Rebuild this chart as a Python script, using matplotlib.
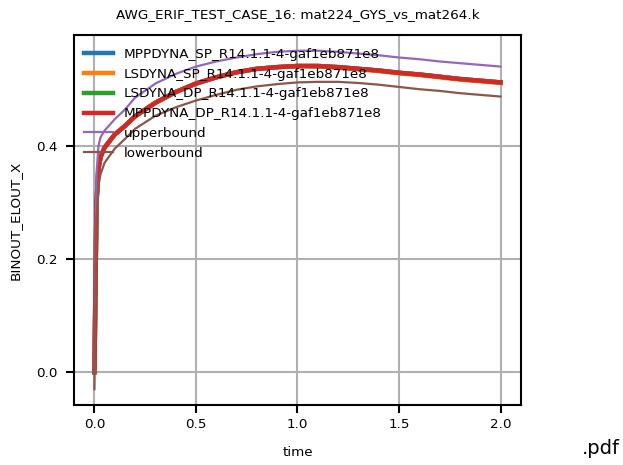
import matplotlib
matplotlib.use('Agg')
import matplotlib.pyplot as plt

# time samples (s)
time = [0.0, 0.005, 0.01, 0.02, 0.03, 0.05, 0.1, 0.15, 0.2, 0.3, 0.4, 0.5, 0.6, 0.7,
        0.8, 0.9, 1.0, 1.1, 1.2, 1.3, 1.4, 1.5, 1.6, 1.7, 1.8, 1.9, 2.0]

mppdyna_sp = [0.0, 0.15, 0.30, 0.36, 0.38, 0.397, 0.42, 0.435, 0.452, 0.476, 0.495,
              0.510, 0.521, 0.530, 0.536, 0.539, 0.541, 0.541, 0.539, 0.536, 0.533,
              0.529, 0.526, 0.522, 0.518, 0.515, 0.512]
lsdyna_sp = [0.0, 0.15, 0.30, 0.36, 0.38, 0.397, 0.42, 0.435, 0.452, 0.476, 0.495,
             0.510, 0.521, 0.530, 0.536, 0.539, 0.541, 0.540, 0.538, 0.535, 0.532,
             0.528, 0.525, 0.521, 0.517, 0.514, 0.511]
lsdyna_dp = [0.0, 0.15, 0.30, 0.36, 0.38, 0.397, 0.42, 0.435, 0.452, 0.476, 0.495,
             0.510, 0.521, 0.530, 0.536, 0.539, 0.541, 0.541, 0.539, 0.536, 0.533,
             0.529, 0.526, 0.522, 0.518, 0.515, 0.512]
mppdyna_dp = [0.0, 0.15, 0.30, 0.36, 0.38, 0.397, 0.42, 0.435, 0.452, 0.476, 0.495,
              0.510, 0.521, 0.530, 0.536, 0.539, 0.541, 0.541, 0.539, 0.536, 0.533,
              0.529, 0.526, 0.522, 0.518, 0.515, 0.512]
upperbound = [0.0, 0.20, 0.35, 0.40, 0.415, 0.427, 0.447, 0.464, 0.485, 0.510, 0.527,
              0.540, 0.549, 0.556, 0.562, 0.566, 0.568, 0.568, 0.566, 0.563, 0.560,
              0.556, 0.553, 0.549, 0.546, 0.543, 0.540]
lowerbound = [-0.03, 0.12, 0.27, 0.33, 0.35, 0.37, 0.395, 0.412, 0.43, 0.453, 0.468,
              0.480, 0.490, 0.499, 0.505, 0.509, 0.512, 0.513, 0.513, 0.511, 0.508,
              0.504, 0.500, 0.497, 0.493, 0.490, 0.487]

labels = ['MPPDYNA_SP_R14.1.1-4-gaf1eb871e8', 'LSDYNA_SP_R14.1.1-4-gaf1eb871e8',
          'LSDYNA_DP_R14.1.1-4-gaf1eb871e8', 'MPPDYNA_DP_R14.1.1-4-gaf1eb871e8',
          'upperbound', 'lowerbound']

fs = 9.7
fig = plt.figure(figsize=(6.23, 4.65), dpi=100)
ax = fig.add_axes([0.119, 0.129, 0.717, 0.796])

ax.plot(time, mppdyna_sp, color='#1f77b4', lw=3.2, label=labels[0])
ax.plot(time, lsdyna_sp, color='#ff7f0e', lw=3.2, label=labels[1])
ax.plot(time, lsdyna_dp, color='#2ca02c', lw=3.2, label=labels[2])
ax.plot(time, mppdyna_dp, color='#d62728', lw=3.2, label=labels[3])
ax.plot(time, upperbound, color='#9467bd', lw=1.6, label=labels[4])
ax.plot(time, lowerbound, color='#8c564b', lw=1.6, label=labels[5])

ax.set_xlim(-0.1, 2.1)
ax.set_ylim(-0.058, 0.596)
ax.set_xticks([0.0, 0.5, 1.0, 1.5, 2.0])
ax.set_yticks([0.0, 0.2, 0.4])
ax.grid(True, color='#b0b0b0', lw=1.5)
ax.set_axisbelow(True)
for s in ax.spines.values():
    s.set_linewidth(1.5)
ax.tick_params(width=1.5, length=6, labelsize=fs)
ax.tick_params(axis='y', pad=6)
ax.tick_params(axis='x', pad=3.5)

ax.set_title('AWG_ERIF_TEST_CASE_16: mat224_GYS_vs_mat264.k', fontsize=fs, pad=12)
ax.set_xlabel('time', fontsize=fs, labelpad=10.5)
ax.set_ylabel('BINOUT_ELOUT_X', fontsize=fs, labelpad=10)
ax.legend(loc='upper left', frameon=False, fontsize=fs, handlelength=2.2,
          borderaxespad=0.3, bbox_to_anchor=(0.0, 0.99))

fig.text(0.995, 0.015, '.pdf', ha='right', va='bottom', fontsize=14)

fig.savefig('out.png', dpi=100)
plt.close(fig)
